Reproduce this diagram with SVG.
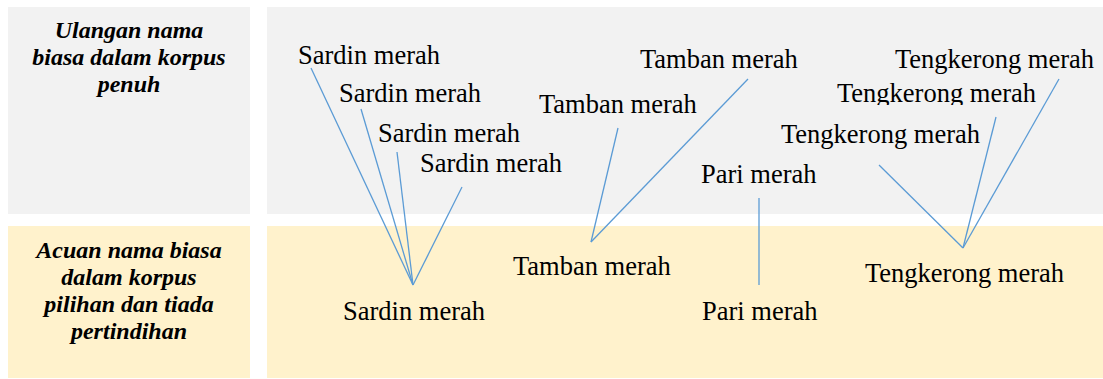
<svg xmlns="http://www.w3.org/2000/svg" width="1103" height="379" viewBox="0 0 1103 379">
<style>
.gray{fill:#f2f2f2}
.yel{fill:#fff2cc}
.hd{font-family:"Liberation Serif","DejaVu Serif",serif;font-size:24px;font-weight:bold;font-style:italic;fill:#000;text-anchor:middle}
.t{font-family:"Liberation Serif","DejaVu Serif",serif;font-size:26.5px;fill:#000}
.ln{stroke:#5b9bd5;stroke-width:1.3;fill:none}
</style>
<defs>
<clipPath id="clipT2"><rect x="830" y="70" width="240" height="35"/></clipPath>
</defs>
<g id="panels">
<rect class="gray" x="8" y="7" width="242" height="207"/>
<rect class="gray" x="267" y="7" width="836" height="207"/>
<rect class="yel" x="8" y="226" width="242" height="152"/>
<rect class="yel" x="267" y="226" width="836" height="152"/>
</g>
<g id="label-top">
<text class="hd" x="129" y="38">Ulangan nama</text>
<text class="hd" x="129" y="65">biasa dalam korpus</text>
<text class="hd" x="129" y="92">penuh</text>
</g>
<g id="label-bottom">
<text class="hd" x="129" y="258">Acuan nama biasa</text>
<text class="hd" x="129" y="285">dalam korpus</text>
<text class="hd" x="129" y="312">pilihan dan tiada</text>
<text class="hd" x="129" y="339">pertindihan</text>
</g>
<g id="connectors">
<line class="ln" x1="311" y1="68" x2="413" y2="285"/>
<line class="ln" x1="361" y1="109" x2="413" y2="285"/>
<line class="ln" x1="397" y1="152" x2="413" y2="285"/>
<line class="ln" x1="462" y1="187" x2="413" y2="285"/>
<line class="ln" x1="618" y1="128" x2="591" y2="242"/>
<line class="ln" x1="748" y1="79" x2="591" y2="242"/>
<line class="ln" x1="759" y1="198" x2="759" y2="285"/>
<line class="ln" x1="879" y1="165" x2="963" y2="248"/>
<line class="ln" x1="996" y1="117" x2="963" y2="248"/>
<line class="ln" x1="1059" y1="79" x2="963" y2="248"/>
</g>
<g id="sardin-top-1"><text class="t" x="298" y="64">Sardin merah</text></g>
<g id="sardin-top-2"><text class="t" x="339" y="102">Sardin merah</text></g>
<g id="sardin-top-3"><text class="t" x="378" y="142">Sardin merah</text></g>
<g id="sardin-top-4"><text class="t" x="420" y="172">Sardin merah</text></g>
<g id="sardin-bottom"><text class="t" x="343" y="320">Sardin merah</text></g>
<g id="tamban-top-1"><text class="t" x="640" y="68">Tamban merah</text></g>
<g id="tamban-top-2"><text class="t" x="539" y="113">Tamban merah</text></g>
<g id="tamban-bottom"><text class="t" x="513" y="275">Tamban merah</text></g>
<g id="pari-top"><text class="t" x="701" y="183">Pari merah</text></g>
<g id="pari-bottom"><text class="t" x="702" y="320">Pari merah</text></g>
<g id="tengkerong-top-1"><text class="t" x="895" y="68">Tengkerong merah</text></g>
<g id="tengkerong-top-2"><text class="t" x="837" y="102" clip-path="url(#clipT2)">Tengkerong merah</text></g>
<g id="tengkerong-top-3"><text class="t" x="781" y="143">Tengkerong merah</text></g>
<g id="tengkerong-bottom"><text class="t" x="865" y="282">Tengkerong merah</text></g>
</svg>
